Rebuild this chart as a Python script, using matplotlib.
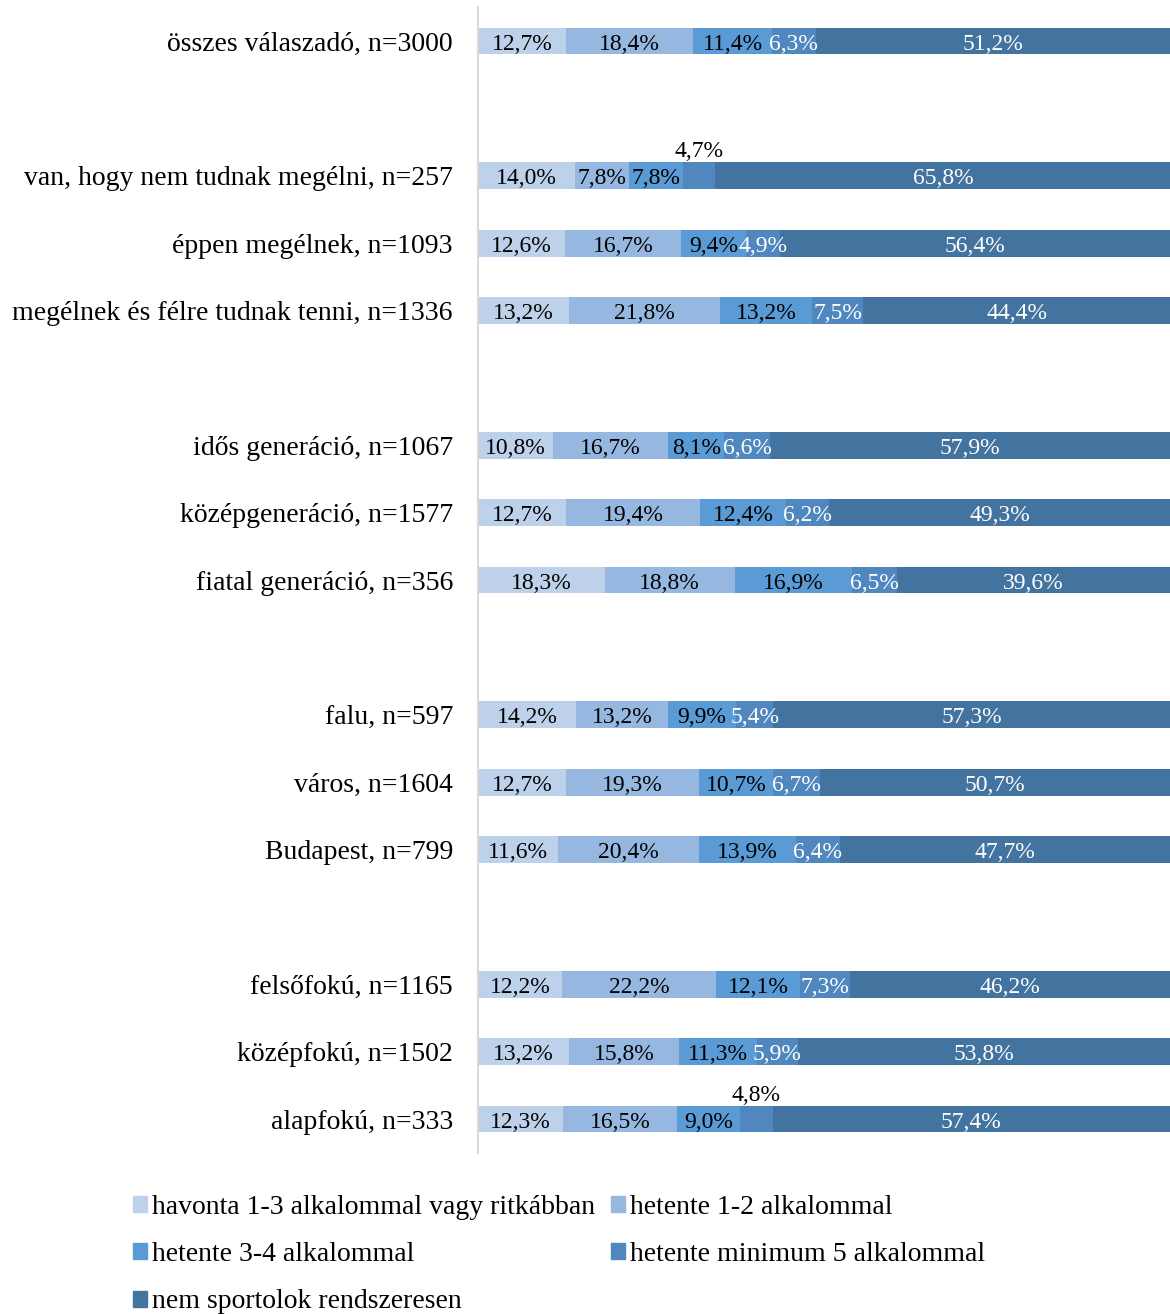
import numpy as np
import matplotlib.pyplot as plt
from matplotlib.patches import Patch

plt.rcParams['font.family'] = ['Liberation Serif', 'DejaVu Serif']

# csoportok fentről lefelé, None = üres sor a blokkok között
groups = ['összes válaszadó, n=3000', None,
          'van, hogy nem tudnak megélni, n=257',
          'éppen megélnek, n=1093',
          'megélnek és félre tudnak tenni, n=1336', None,
          'idős generáció, n=1067',
          'középgeneráció, n=1577',
          'fiatal generáció, n=356', None,
          'falu, n=597',
          'város, n=1604',
          'Budapest, n=799', None,
          'felsőfokú, n=1165',
          'középfokú, n=1502',
          'alapfokú, n=333']

havonta = [12.7, None, 14.0, 12.6, 13.2, None, 10.8, 12.7, 18.3, None, 14.2, 12.7, 11.6, None, 12.2, 13.2, 12.3]
hetente12 = [18.4, None, 7.8, 16.7, 21.8, None, 16.7, 19.4, 18.8, None, 13.2, 19.3, 20.4, None, 22.2, 15.8, 16.5]
hetente34 = [11.4, None, 7.8, 9.4, 13.2, None, 8.1, 12.4, 16.9, None, 9.9, 10.7, 13.9, None, 12.1, 11.3, 9.0]
hetente5 = [6.3, None, 4.7, 4.9, 7.5, None, 6.6, 6.2, 6.5, None, 5.4, 6.7, 6.4, None, 7.3, 5.9, 4.8]
nem = [51.2, None, 65.8, 56.4, 44.4, None, 57.9, 49.3, 39.6, None, 57.3, 50.7, 47.7, None, 46.2, 53.8, 57.4]

series = ['havonta 1-3 alkalommal vagy ritkábban',
          'hetente 1-2 alkalommal',
          'hetente 3-4 alkalommal',
          'hetente minimum 5 alkalommal',
          'nem sportolok rendszeresen']
colors = ['#BDD1EA', '#96B8E0', '#5A9BD5', '#4F87BE', '#43739F']
text_colors = ['black', 'black', 'black', 'white', 'white']

data = [havonta, hetente12, hetente34, hetente5, nem]

# ezekben a sorokban a 4. szakasz címkéje a sáv fölött áll
labels_above = {2, 16}

fig = plt.figure(figsize=(11.7, 13.14), dpi=100)
ax = fig.add_axes([478 / 1170, 1 - 1152.7 / 1314, 1 - 478 / 1170, (1152.7 - 7.3) / 1314])

rows = [i for i, g in enumerate(groups) if g is not None]
left = np.zeros(len(groups))
for s, vals in enumerate(data):
    for i in rows:
        v = vals[i]
        ax.barh(i, v, left=left[i], height=0.4, color=colors[s], linewidth=0)
        label = f'{v:.1f}'.replace('.', ',') + '%'
        cx = left[i] + v / 2
        if s == 3 and i in labels_above:
            ax.text(cx, i - 0.39, label, ha='center', va='center_baseline',
                    fontsize=17, color='black')
        else:
            ax.text(cx, i + 0.01, label, ha='center', va='center_baseline',
                    fontsize=17, color=text_colors[s])
        left[i] += v

ax.set_xlim(0, 100)
ax.set_ylim(len(groups) - 0.5, -0.5)
ax.set_yticks(rows)
ax.set_yticklabels([groups[i] for i in rows], fontsize=20)
ax.tick_params(axis='y', length=0, pad=18)
ax.set_xticks([])
for side in ['top', 'right', 'bottom']:
    ax.spines[side].set_visible(False)
ax.spines['left'].set_color('#D9D9D9')
ax.spines['left'].set_linewidth(1.5)

handles = [Patch(color=c, label=l) for c, l in zip(colors, series)]
order = [0, 2, 4, 1, 3]
fig.legend([handles[k] for k in order], [series[k] for k in order],
           ncol=2, loc='upper left', bbox_to_anchor=(133 / 1170, 1 - 1195 / 1314),
           frameon=False, fontsize=20, handlelength=0.5, handleheight=0.5,
           handletextpad=0.2, columnspacing=0.55, labelspacing=0.8, borderpad=0,
           borderaxespad=0)

fig.savefig('out.png', dpi=100)
